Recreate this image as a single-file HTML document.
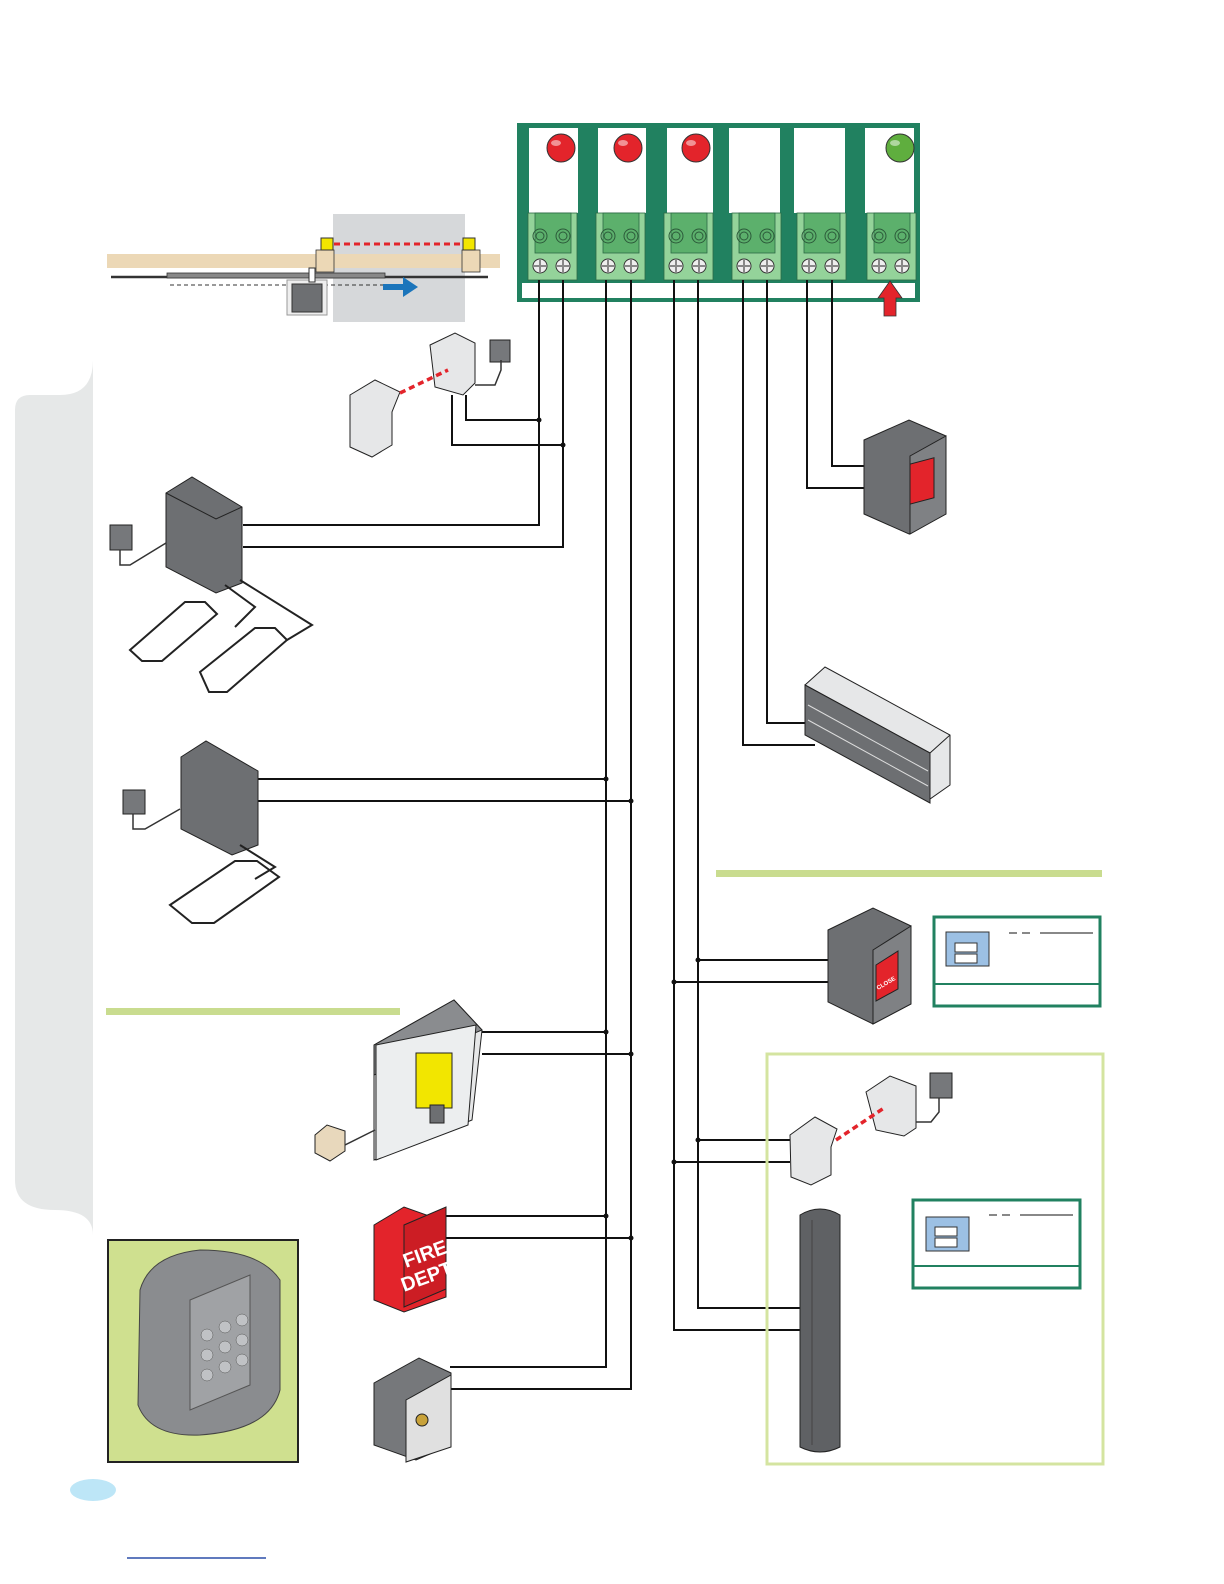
<!DOCTYPE html>
<html><head><meta charset="utf-8"><style>html,body{margin:0;padding:0;background:#fff;overflow:hidden;width:1224px;height:1584px}svg{display:block}</style></head>
<body>
<svg width="1224" height="1584" viewBox="0 0 1224 1584" xmlns="http://www.w3.org/2000/svg" font-family="Liberation Sans, sans-serif">
<path d="M93,360 Q93,395 60,395 L30,395 Q15,395 15,410 L15,1180 Q15,1210 55,1210 Q93,1210 93,1235 Z" fill="#e6e8e8"/>
<rect x="333" y="214" width="132" height="108" fill="#d6d8da"/>
<rect x="107" y="254" width="393" height="14" fill="#ecd8b6"/>
<rect x="316" y="250" width="18" height="22" fill="#ecd8b6" stroke="#333" stroke-width="0.8"/>
<rect x="462" y="250" width="18" height="22" fill="#ecd8b6" stroke="#333" stroke-width="0.8"/>
<rect x="321" y="238" width="12" height="12" fill="#f2e600" stroke="#333"/>
<rect x="463" y="238" width="12" height="12" fill="#f2e600" stroke="#333"/>
<line x1="334" y1="244" x2="462" y2="244" stroke="#e3242b" stroke-width="3" stroke-dasharray="6,4"/>
<line x1="111" y1="277" x2="488" y2="277" stroke="#333" stroke-width="2.5"/>
<rect x="167" y="273" width="218" height="5" fill="#888" stroke="#333" stroke-width="0.8"/>
<line x1="170" y1="285" x2="383" y2="285" stroke="#333" stroke-dasharray="4,3"/>
<rect x="287" y="280" width="40" height="35" fill="#eee" stroke="#999"/>
<rect x="292" y="284" width="30" height="28" fill="#6d6f72" stroke="#333"/>
<rect x="309" y="268" width="6" height="14" fill="#fff" stroke="#333"/>
<path d="M383,284 h20 v-7 l15,10 -15,10 v-7 h-20z" fill="#1b75bb"/>
<rect x="517" y="123" width="403" height="179" fill="#218160"/>
<rect x="522" y="283" width="393" height="15" fill="#fff"/>
<g>
<rect x="529" y="128" width="49" height="85" fill="#fff"/>
<rect x="598" y="128" width="48" height="85" fill="#fff"/>
<rect x="667" y="128" width="46" height="85" fill="#fff"/>
<rect x="729" y="128" width="51" height="85" fill="#fff"/>
<rect x="794" y="128" width="51" height="85" fill="#fff"/>
<rect x="865" y="128" width="49" height="85" fill="#fff"/>
</g>
<g stroke="#333" stroke-width="1">
<circle cx="561" cy="148" r="14" fill="#e3242b"/><circle cx="628" cy="148" r="14" fill="#e3242b"/><circle cx="696" cy="148" r="14" fill="#e3242b"/><circle cx="900" cy="148" r="14" fill="#5fae3e"/>
</g>
<g fill="#fff" opacity="0.5"><ellipse cx="556" cy="143" rx="5" ry="3"/><ellipse cx="623" cy="143" rx="5" ry="3"/><ellipse cx="691" cy="143" rx="5" ry="3"/><ellipse cx="895" cy="143" rx="5" ry="3"/></g>
<g id="tb">
<rect x="528" y="213" width="49" height="67" fill="#94d39a" stroke="#2c6a45" stroke-width="0.8"/>
<rect x="535" y="213" width="36" height="40" fill="#5cb06c" stroke="#2c6a45" stroke-width="0.8"/>
<circle cx="540" cy="236" r="7" fill="none" stroke="#2c5a3a"/><circle cx="540" cy="236" r="4" fill="none" stroke="#2c5a3a"/>
<circle cx="563" cy="236" r="7" fill="none" stroke="#2c5a3a"/><circle cx="563" cy="236" r="4" fill="none" stroke="#2c5a3a"/>
<circle cx="540" cy="266" r="7" fill="#eee" stroke="#333"/><path d="M534,266h12M540,260v12" stroke="#888" stroke-width="2"/>
<circle cx="563" cy="266" r="7" fill="#eee" stroke="#333"/><path d="M557,266h12M563,260v12" stroke="#888" stroke-width="2"/>
</g>
<use href="#tb" x="68"/><use href="#tb" x="136"/><use href="#tb" x="204"/><use href="#tb" x="269"/><use href="#tb" x="339"/>
<path d="M884,316 v-18 h-6 l12,-17 12,17 h-6 v18z" fill="#e3242b" stroke="#333" stroke-width="0.8"/>
<g stroke="#111" stroke-width="2" fill="none">
<path d="M539,280 V525 H243"/><path d="M563,280 V547 H243"/>
<path d="M539,420 H466 V395"/><path d="M563,445 H452 V395"/>
<path d="M606,280 V1367 H450"/><path d="M631,280 V1389 H450"/>
<path d="M606,779 H258 M631,801 H258 M606,1032 H482 M631,1054 H482 M606,1216 H445 M631,1238 H445"/>
<path d="M674,280 V1330 H800"/><path d="M698,280 V1308 H800"/>
<path d="M674,982 H828 M698,960 H828 M674,1162 H790 M698,1140 H790"/>
<path d="M743,280 V745 H815"/><path d="M767,280 V723 H815"/>
<path d="M807,280 V488 H866"/><path d="M832,280 V466 H866"/>
</g>
<g fill="#111"><circle cx="539" cy="420" r="2.5"/><circle cx="563" cy="445" r="2.5"/>
<circle cx="606" cy="779" r="2.5"/><circle cx="631" cy="801" r="2.5"/><circle cx="606" cy="1032" r="2.5"/><circle cx="631" cy="1054" r="2.5"/><circle cx="606" cy="1216" r="2.5"/><circle cx="631" cy="1238" r="2.5"/>
<circle cx="674" cy="982" r="2.5"/><circle cx="698" cy="960" r="2.5"/><circle cx="674" cy="1162" r="2.5"/><circle cx="698" cy="1140" r="2.5"/></g>
<g stroke="#222" stroke-width="1">
<path d="M350,395 l25,-15 25,12 -8,20 v33 l-20,12 -22,-10z" fill="#e6e7e8"/>
<path d="M430,345 l25,-12 20,10 v40 l-12,12 -28,-8z" fill="#e6e7e8"/>
<rect x="490" y="340" width="20" height="22" fill="#76787b"/>
</g>
<line x1="400" y1="393" x2="448" y2="370" stroke="#e3242b" stroke-width="3.5" stroke-dasharray="6,4"/>
<path d="M475,385 h20 l6,-15 v-10" stroke="#333" stroke-width="1.5" fill="none"/>
<g stroke="#222" stroke-width="1">
<path d="M166,493 l26,-16 50,30 v76 l-26,10 -50,-26z" fill="#6d6f72"/>
<path d="M166,493 l50,26 26,-12" fill="none"/>
<rect x="110" y="525" width="22" height="25" fill="#76787b"/>
<path d="M130,650 l55,-48 h20 l12,12 -55,47 h-20z M200,672 l55,-44 h20 l12,12 -60,52 h-18z" fill="none" stroke-width="2"/>
<path d="M225,585 l30,22 -20,20 M240,580 l72,45 -25,15" fill="none" stroke-width="2"/>
</g>
<path d="M120,550 v15 h10 l36,-22" stroke="#333" stroke-width="1.5" fill="none"/>
<g stroke="#222" stroke-width="1">
<path d="M181,757 l25,-16 52,30 v74 l-26,10 -51,-26z" fill="#6d6f72"/>
<rect x="123" y="790" width="22" height="24" fill="#76787b"/>
<path d="M170,905 l65,-44 h22 l22,16 -65,46 h-22z" fill="none" stroke-width="2"/>
<path d="M240,845 l35,22 -20,12" fill="none" stroke-width="2"/>
</g>
<path d="M133,814 v15 h12 l35,-20" stroke="#333" stroke-width="1.5" fill="none"/>
<rect x="716" y="870" width="386" height="7" fill="#c9dc8f"/>
<rect x="106" y="1008" width="294" height="7" fill="#c9dc8f"/>
<g stroke="#222" stroke-width="1">
<path d="M864,440 l45,-20 37,16 v78 l-37,20 -45,-20z" fill="#6d6f72"/>
<path d="M910,456 l36,-20 v78 l-36,20z" fill="#7f8184"/>
<rect x="910" y="465" width="24" height="40" fill="#e3242b" transform="skewY(-15) translate(0,243)"/>
</g>
<g stroke="#222" stroke-width="1">
<path d="M805,685 l20,-18 125,68 v50 l-20,14 -125,-68z" fill="#e6e7e8"/>
<path d="M805,685 l125,68 20,-18" fill="none"/>
<path d="M805,685 v50 l125,68 v-50z" fill="#6d6f72"/>
<path d="M808,705 l120,66 M808,720 l120,66" stroke="#ddd"/>
</g>
<g stroke="#222" stroke-width="1">
<path d="M828,930 l45,-22 38,18 v78 l-38,20 -45,-22z" fill="#6d6f72"/>
<path d="M873,950 l38,-24 v78 l-38,20z" fill="#7f8184"/>
<path d="M876,965 l22,-14 v38 l-22,12z" fill="#e3242b"/>
</g>
<text x="878" y="990" font-size="6" fill="#fff" font-weight="bold" transform="rotate(-30 878 990)">CLOSE</text>
<rect x="934" y="917" width="166" height="89" fill="#fff" stroke="#218160" stroke-width="3"/>
<line x1="934" y1="984" x2="1100" y2="984" stroke="#218160" stroke-width="2"/>
<rect x="946" y="932" width="43" height="34" fill="#9cc0e4" stroke="#333"/>
<rect x="955" y="943" width="22" height="9" fill="#fff" stroke="#333"/><rect x="955" y="954" width="22" height="9" fill="#fff" stroke="#333"/>
<path d="M1009,933h8M1022,933h8M1040,933h53" stroke="#111"/>
<rect x="767" y="1054" width="336" height="410" fill="none" stroke="#d4e4a0" stroke-width="3"/>
<rect x="913" y="1200" width="167" height="88" fill="#fff" stroke="#218160" stroke-width="3"/>
<line x1="913" y1="1266" x2="1080" y2="1266" stroke="#218160" stroke-width="2"/>
<rect x="926" y="1217" width="43" height="34" fill="#9cc0e4" stroke="#333"/>
<rect x="935" y="1227" width="22" height="9" fill="#fff" stroke="#333"/><rect x="935" y="1238" width="22" height="9" fill="#fff" stroke="#333"/>
<path d="M989,1215h8M1002,1215h8M1020,1215h53" stroke="#111"/>
<g stroke="#222" stroke-width="1">
<path d="M790,1135 l25,-18 22,12 -6,18 v28 l-20,10 -20,-8z" fill="#e6e7e8"/>
<path d="M866,1092 l24,-16 26,10 v42 l-12,8 -28,-6z" fill="#e6e7e8"/>
<rect x="930" y="1073" width="22" height="25" fill="#76787b"/>
<path d="M800,1215 q20,-12 40,0 v232 q-20,10 -40,0z" fill="#5f6164"/>
<path d="M812,1220 v225" stroke="#444"/>
</g>
<line x1="836" y1="1140" x2="884" y2="1108" stroke="#e3242b" stroke-width="3.5" stroke-dasharray="6,4"/>
<path d="M916,1122 h15 l8,-10 v-14" stroke="#333" stroke-width="1.5" fill="none"/>
<g stroke="#222" stroke-width="1">
<path d="M374,1045 l80,-45 28,30 -10,90 -98,40z" fill="#e6e7e8"/>
<path d="M374,1045 l80,-45 28,30 -108,45z" fill="#8a8c8f"/>
<path d="M376,1045 l100,-20 -8,100 -92,35z" fill="#eceeef"/>
<rect x="416" y="1053" width="36" height="55" fill="#f2e600"/>
<rect x="430" y="1105" width="14" height="18" fill="#6d6f72"/>
<path d="M315,1135 l12,-10 18,6 v20 l-15,10 -15,-8z" fill="#e8d8bc"/>
</g>
<path d="M345,1145 l30,-15" stroke="#333" stroke-width="1.5"/>
<g stroke="#222" stroke-width="1">
<path d="M374,1225 l30,-18 42,15 v75 l-42,15 -30,-12z" fill="#e3242b"/>
<path d="M404,1225 l42,-18 v82 l-42,18z" fill="#cc1d24"/>
</g>
<text x="406" y="1268" font-size="20" font-weight="bold" fill="#fff" transform="rotate(-20 406 1268)">FIRE</text>
<text x="404" y="1292" font-size="20" font-weight="bold" fill="#fff" transform="rotate(-20 404 1292)">DEPT</text>
<g stroke="#222" stroke-width="1">
<path d="M374,1383 l45,-25 32,15 v72 l-35,15 -42,-15z" fill="#76787b"/>
<path d="M406,1400 l45,-25 v72 l-45,15z" fill="#e0e0e0"/>
<circle cx="422" cy="1420" r="6" fill="#c8a23a"/>
</g>
<rect x="108" y="1240" width="190" height="222" fill="#cfe08f" stroke="#222" stroke-width="2"/>
<path d="M140,1290 q10,-35 60,-40 q60,0 80,30 v110 q-10,40 -80,45 q-50,2 -62,-30z" fill="#8a8c8f" stroke="#444"/>
<path d="M190,1300 l60,-25 v110 l-60,25z" fill="#a0a2a5" stroke="#555"/>
<g fill="#c0c2c5" stroke="#555" stroke-width="0.5">
<circle cx="207" cy="1335" r="6"/><circle cx="225" cy="1327" r="6"/><circle cx="242" cy="1320" r="6"/>
<circle cx="207" cy="1355" r="6"/><circle cx="225" cy="1347" r="6"/><circle cx="242" cy="1340" r="6"/>
<circle cx="207" cy="1375" r="6"/><circle cx="225" cy="1367" r="6"/><circle cx="242" cy="1360" r="6"/>
</g>
<ellipse cx="93" cy="1490" rx="23" ry="11" fill="#bde6f7"/>
<line x1="127" y1="1558" x2="266" y2="1558" stroke="#2b4fa8" stroke-width="1.5"/>
</svg>
</body></html>
